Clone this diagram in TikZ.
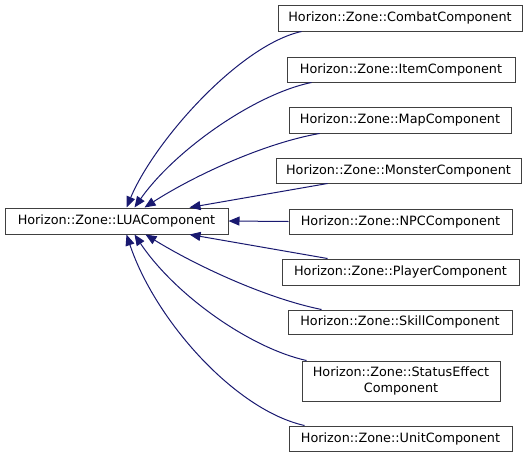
\documentclass[tikz,border=0pt]{standalone}
\usepackage{fontspec}
\setmainfont{DejaVu Sans}
\usetikzlibrary{arrows.meta}
\definecolor{edgeblue}{HTML}{191970}
\definecolor{boxgray}{HTML}{404040}
\tikzset{
  cls/.style={draw=boxgray, line width=1pt, fill=white, rectangle, inner sep=0pt,
    font=\fontsize{12.8}{15.5}\selectfont, align=center, anchor=center},
  inh/.style={draw=edgeblue, line width=1pt, -{Triangle[length=11pt,width=9pt,fill=edgeblue]}},
}
\begin{document}
\begin{tikzpicture}[x=1pt,y=-1pt]
\useasboundingbox (0,0) rectangle (531,459);
\node[cls, minimum width=223pt, minimum height=26pt] (lua) at (116.5,221) {Horizon::Zone::LUAComponent};
\node[cls, minimum width=244pt, minimum height=26pt] (combat) at (400,18) {Horizon::Zone::CombatComponent};
\node[cls, minimum width=228pt, minimum height=25pt] (item) at (401,69.5) {Horizon::Zone::ItemComponent};
\node[cls, minimum width=222pt, minimum height=26pt] (map) at (400,120) {Horizon::Zone::MapComponent};
\node[cls, minimum width=245pt, minimum height=25pt] (monster) at (398.5,170.5) {Horizon::Zone::MonsterComponent};
\node[cls, minimum width=223pt, minimum height=25pt] (npc) at (400.5,221.5) {Horizon::Zone::NPCComponent};
\node[cls, minimum width=237pt, minimum height=26pt] (player) at (400.5,272) {Horizon::Zone::PlayerComponent};
\node[cls, minimum width=224pt, minimum height=24pt] (skill) at (400,322) {Horizon::Zone::SkillComponent};
\node[cls, minimum width=198pt, minimum height=40pt] (status) at (401,381) {Horizon::Zone::StatusEffect\\Component};
\node[cls, minimum width=223pt, minimum height=25pt] (unit) at (400.5,438.5) {Horizon::Zone::UnitComponent};

\draw[inh] ([xshift=24pt]combat.south west) .. controls (240,45) and (155,140) .. ([xshift=122pt]lua.north west);
\draw[inh] ([xshift=25pt]item.south west) .. controls (255,94) and (175,150) .. ([xshift=130pt]lua.north west);
\draw[inh] ([xshift=31pt]map.south west) .. controls (265,143) and (195,175) .. ([xshift=140pt]lua.north west);
\draw[inh] ([xshift=52pt]monster.south west) -- ([xshift=185pt]lua.north west);
\draw[inh] (npc.west) -- (lua.east);
\draw[inh] ([xshift=46pt]player.north west) -- ([xshift=185pt]lua.south west);
\draw[inh] ([xshift=34pt]skill.north west) .. controls (265,298) and (195,265) .. ([xshift=141pt]lua.south west);
\draw[inh] ([xshift=5pt]status.north west) .. controls (250,348) and (175,295) .. ([xshift=130pt]lua.south west);
\draw[inh] ([xshift=16pt]unit.north west) .. controls (235,410) and (155,320) .. ([xshift=122pt]lua.south west);
\end{tikzpicture}
\end{document}
